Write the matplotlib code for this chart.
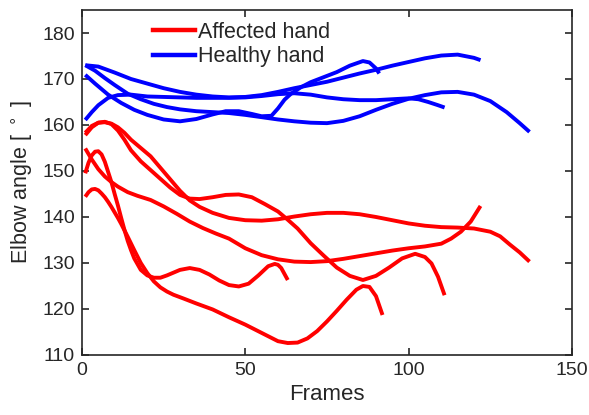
import matplotlib
matplotlib.use("Agg")
import matplotlib.pyplot as plt
from matplotlib.lines import Line2D

plt.rcParams['font.family'] = ['Liberation Sans', 'DejaVu Sans']

# Affected hand (red) curves: frame numbers and elbow angle
aff1_x = [1, 3, 5, 7, 9, 11, 13, 15, 18, 21, 24, 27, 30, 33, 36, 40, 44, 48, 52, 56, 60, 63, 66, 70, 74, 78, 82, 86, 90, 94, 98, 102, 105, 107, 109, 111]
aff1_y = [157.8, 159.5, 160.5, 160.7, 160.2, 158.8, 156.8, 154.5, 152.1, 150.2, 148.3, 146.4, 144.8, 144.0, 143.9, 144.3, 144.8, 144.9, 144.3, 142.8, 141.2, 139.4, 137.5, 134.3, 131.6, 129.0, 127.2, 126.3, 127.2, 129.0, 131.0, 132.0, 131.3, 129.9, 127.0, 123.0]

aff2_x = [1, 3, 5, 7, 9, 11, 13, 15, 18, 21, 24, 27, 30, 33, 36, 40, 45, 50, 55, 60, 65, 70, 75, 80, 85, 90, 95, 100, 105, 110, 115, 120, 125, 128, 131, 134, 137]
aff2_y = [158.3, 159.8, 160.5, 160.6, 160.3, 159.5, 158.3, 156.8, 155.0, 153.2, 150.7, 148.2, 145.7, 143.6, 142.2, 140.9, 139.8, 139.3, 139.2, 139.5, 140.1, 140.6, 140.9, 140.9, 140.6, 140.0, 139.3, 138.6, 138.1, 137.8, 137.7, 137.5, 136.8, 135.8, 134.0, 132.3, 130.3]

aff3_x = [1, 3, 5, 7, 9, 11, 14, 17, 21, 25, 29, 33, 37, 41, 45, 50, 55, 60, 65, 70, 75, 80, 85, 90, 95, 100, 105, 110, 113, 116, 119, 122]
aff3_y = [154.9, 152.5, 150.4, 148.8, 147.6, 146.6, 145.4, 144.6, 143.7, 142.3, 140.7, 139.0, 137.6, 136.4, 135.3, 133.2, 131.7, 130.8, 130.3, 130.2, 130.4, 130.9, 131.5, 132.1, 132.7, 133.2, 133.6, 134.2, 135.3, 136.8, 139.0, 142.4]

aff4_x = [1, 2, 3, 4, 5, 6, 7, 8, 9, 10, 11, 12, 13, 14, 15, 16, 18, 20, 22, 24, 26, 28, 30, 33, 36, 39, 42, 45, 48, 51, 54, 57, 59, 60, 61, 62, 63]
aff4_y = [149.5, 151.8, 153.4, 154.2, 154.3, 153.6, 152.0, 149.8, 147.6, 145.0, 142.5, 139.8, 137.2, 134.8, 132.8, 131.0, 128.5, 127.3, 126.8, 126.8, 127.3, 127.9, 128.5, 128.9, 128.5, 127.5, 126.2, 125.2, 124.9, 125.5, 127.3, 129.3, 129.8, 129.6, 128.9, 127.6, 126.3]

aff5_x = [1, 2, 3, 4, 5, 6, 7, 8, 9, 10, 11, 12, 13, 14, 16, 18, 20, 22, 24, 26, 28, 31, 35, 40, 45, 50, 55, 60, 63, 66, 69, 72, 75, 78, 81, 84, 86, 88, 90, 92]
aff5_y = [144.4, 145.4, 146.0, 146.1, 145.8, 145.1, 144.3, 143.3, 142.2, 141.0, 139.8, 138.5, 137.1, 135.7, 132.8, 130.0, 127.8, 126.0, 124.7, 123.8, 123.1, 122.3, 121.2, 119.9, 118.2, 116.6, 114.8, 113.0, 112.6, 112.7, 113.6, 115.2, 117.3, 119.6, 122.0, 124.2, 125.0, 124.8, 122.8, 118.7]

# Healthy hand (blue) curves
hea1_x = [1, 5, 10, 15, 20, 25, 30, 35, 40, 45, 50, 55, 60, 65, 70, 75, 80, 85, 90, 95, 100, 105, 110, 115, 120, 122]
hea1_y = [173.0, 172.7, 171.4, 170.0, 169.0, 168.0, 167.2, 166.6, 166.2, 166.0, 166.1, 166.5, 167.2, 168.0, 168.7, 169.4, 170.3, 171.2, 172.0, 172.9, 173.7, 174.5, 175.1, 175.3, 174.6, 174.1]

hea2_x = [1, 4, 8, 12, 16, 20, 25, 30, 35, 40, 44, 48, 52, 55, 58, 60, 62, 64, 67, 70, 74, 78, 82, 86, 88, 90, 91]
hea2_y = [170.9, 169.0, 166.6, 164.8, 163.3, 162.2, 161.2, 160.8, 161.3, 162.3, 163.0, 163.0, 162.4, 161.9, 162.0, 163.6, 165.5, 166.8, 168.2, 169.3, 170.4, 171.5, 172.9, 173.9, 173.6, 172.3, 171.2]

hea3_x = [1, 3, 5, 8, 11, 15, 20, 25, 30, 35, 40, 45, 50, 55, 60, 65, 70, 75, 80, 85, 90, 95, 100, 103, 106, 109, 111]
hea3_y = [161.1, 162.8, 164.3, 165.9, 166.5, 166.6, 166.2, 166.1, 166.0, 165.9, 165.9, 165.9, 166.0, 166.3, 166.7, 166.9, 166.6, 166.0, 165.6, 165.4, 165.4, 165.6, 165.8, 165.6, 165.0, 164.3, 163.8]

hea4_x = [1, 4, 7, 10, 14, 18, 22, 26, 30, 35, 40, 45, 50, 55, 60, 65, 70, 75, 80, 85, 90, 95, 100, 105, 110, 115, 120, 125, 130, 134, 137]
hea4_y = [173.0, 171.8, 170.2, 168.7, 166.8, 165.6, 164.6, 163.9, 163.4, 163.0, 162.8, 162.6, 162.2, 161.7, 161.2, 160.8, 160.5, 160.4, 160.9, 161.9, 163.3, 164.6, 165.7, 166.5, 167.1, 167.2, 166.6, 165.2, 162.8, 160.4, 158.5]

affected = [(aff1_x, aff1_y), (aff2_x, aff2_y), (aff3_x, aff3_y), (aff4_x, aff4_y), (aff5_x, aff5_y)]
healthy = [(hea1_x, hea1_y), (hea2_x, hea2_y), (hea3_x, hea3_y), (hea4_x, hea4_y)]

x_ticks = [0, 50, 100, 150]
y_ticks = [110, 120, 130, 140, 150, 160, 170, 180]

fig = plt.figure(figsize=(5.89, 4.15), dpi=100)
ax = fig.add_axes([0.1392, 0.1446, 0.8319, 0.8313])

lw = 2.8
for xs, ys in healthy:
    ax.plot(xs, ys, color='#0000ff', lw=lw, solid_capstyle='butt', solid_joinstyle='round')
for xs, ys in affected:
    ax.plot(xs, ys, color='#ff0000', lw=lw, solid_capstyle='butt', solid_joinstyle='round')

ax.set_xlim(0, 150)
ax.set_ylim(110, 185)
ax.set_xticks(x_ticks)
ax.set_yticks(y_ticks)

axis_col = '#262626'
for s in ax.spines.values():
    s.set_color(axis_col)
    s.set_linewidth(1.2)
ax.tick_params(direction='in', top=True, right=True, length=5, width=1.2,
               colors=axis_col, labelsize=14, labelcolor=axis_col, pad=5)

ax.set_xlabel('Frames', fontsize=16, color=axis_col, labelpad=4)
ax.set_ylabel('Elbow angle [ $^\\circ$ ]', fontsize=15.5, color=axis_col, labelpad=5)

handles = [Line2D([], [], color='#ff0000', lw=3.2), Line2D([], [], color='#0000ff', lw=3.2)]
ax.legend(handles, ['Affected hand', 'Healthy hand'], loc='upper left',
          bbox_to_anchor=(0.145, 0.966), frameon=False, fontsize=15.5,
          handlelength=1.95, handletextpad=0.15, labelspacing=0.16,
          borderpad=0, borderaxespad=0, labelcolor=axis_col)

fig.savefig('out.png', dpi=100)
